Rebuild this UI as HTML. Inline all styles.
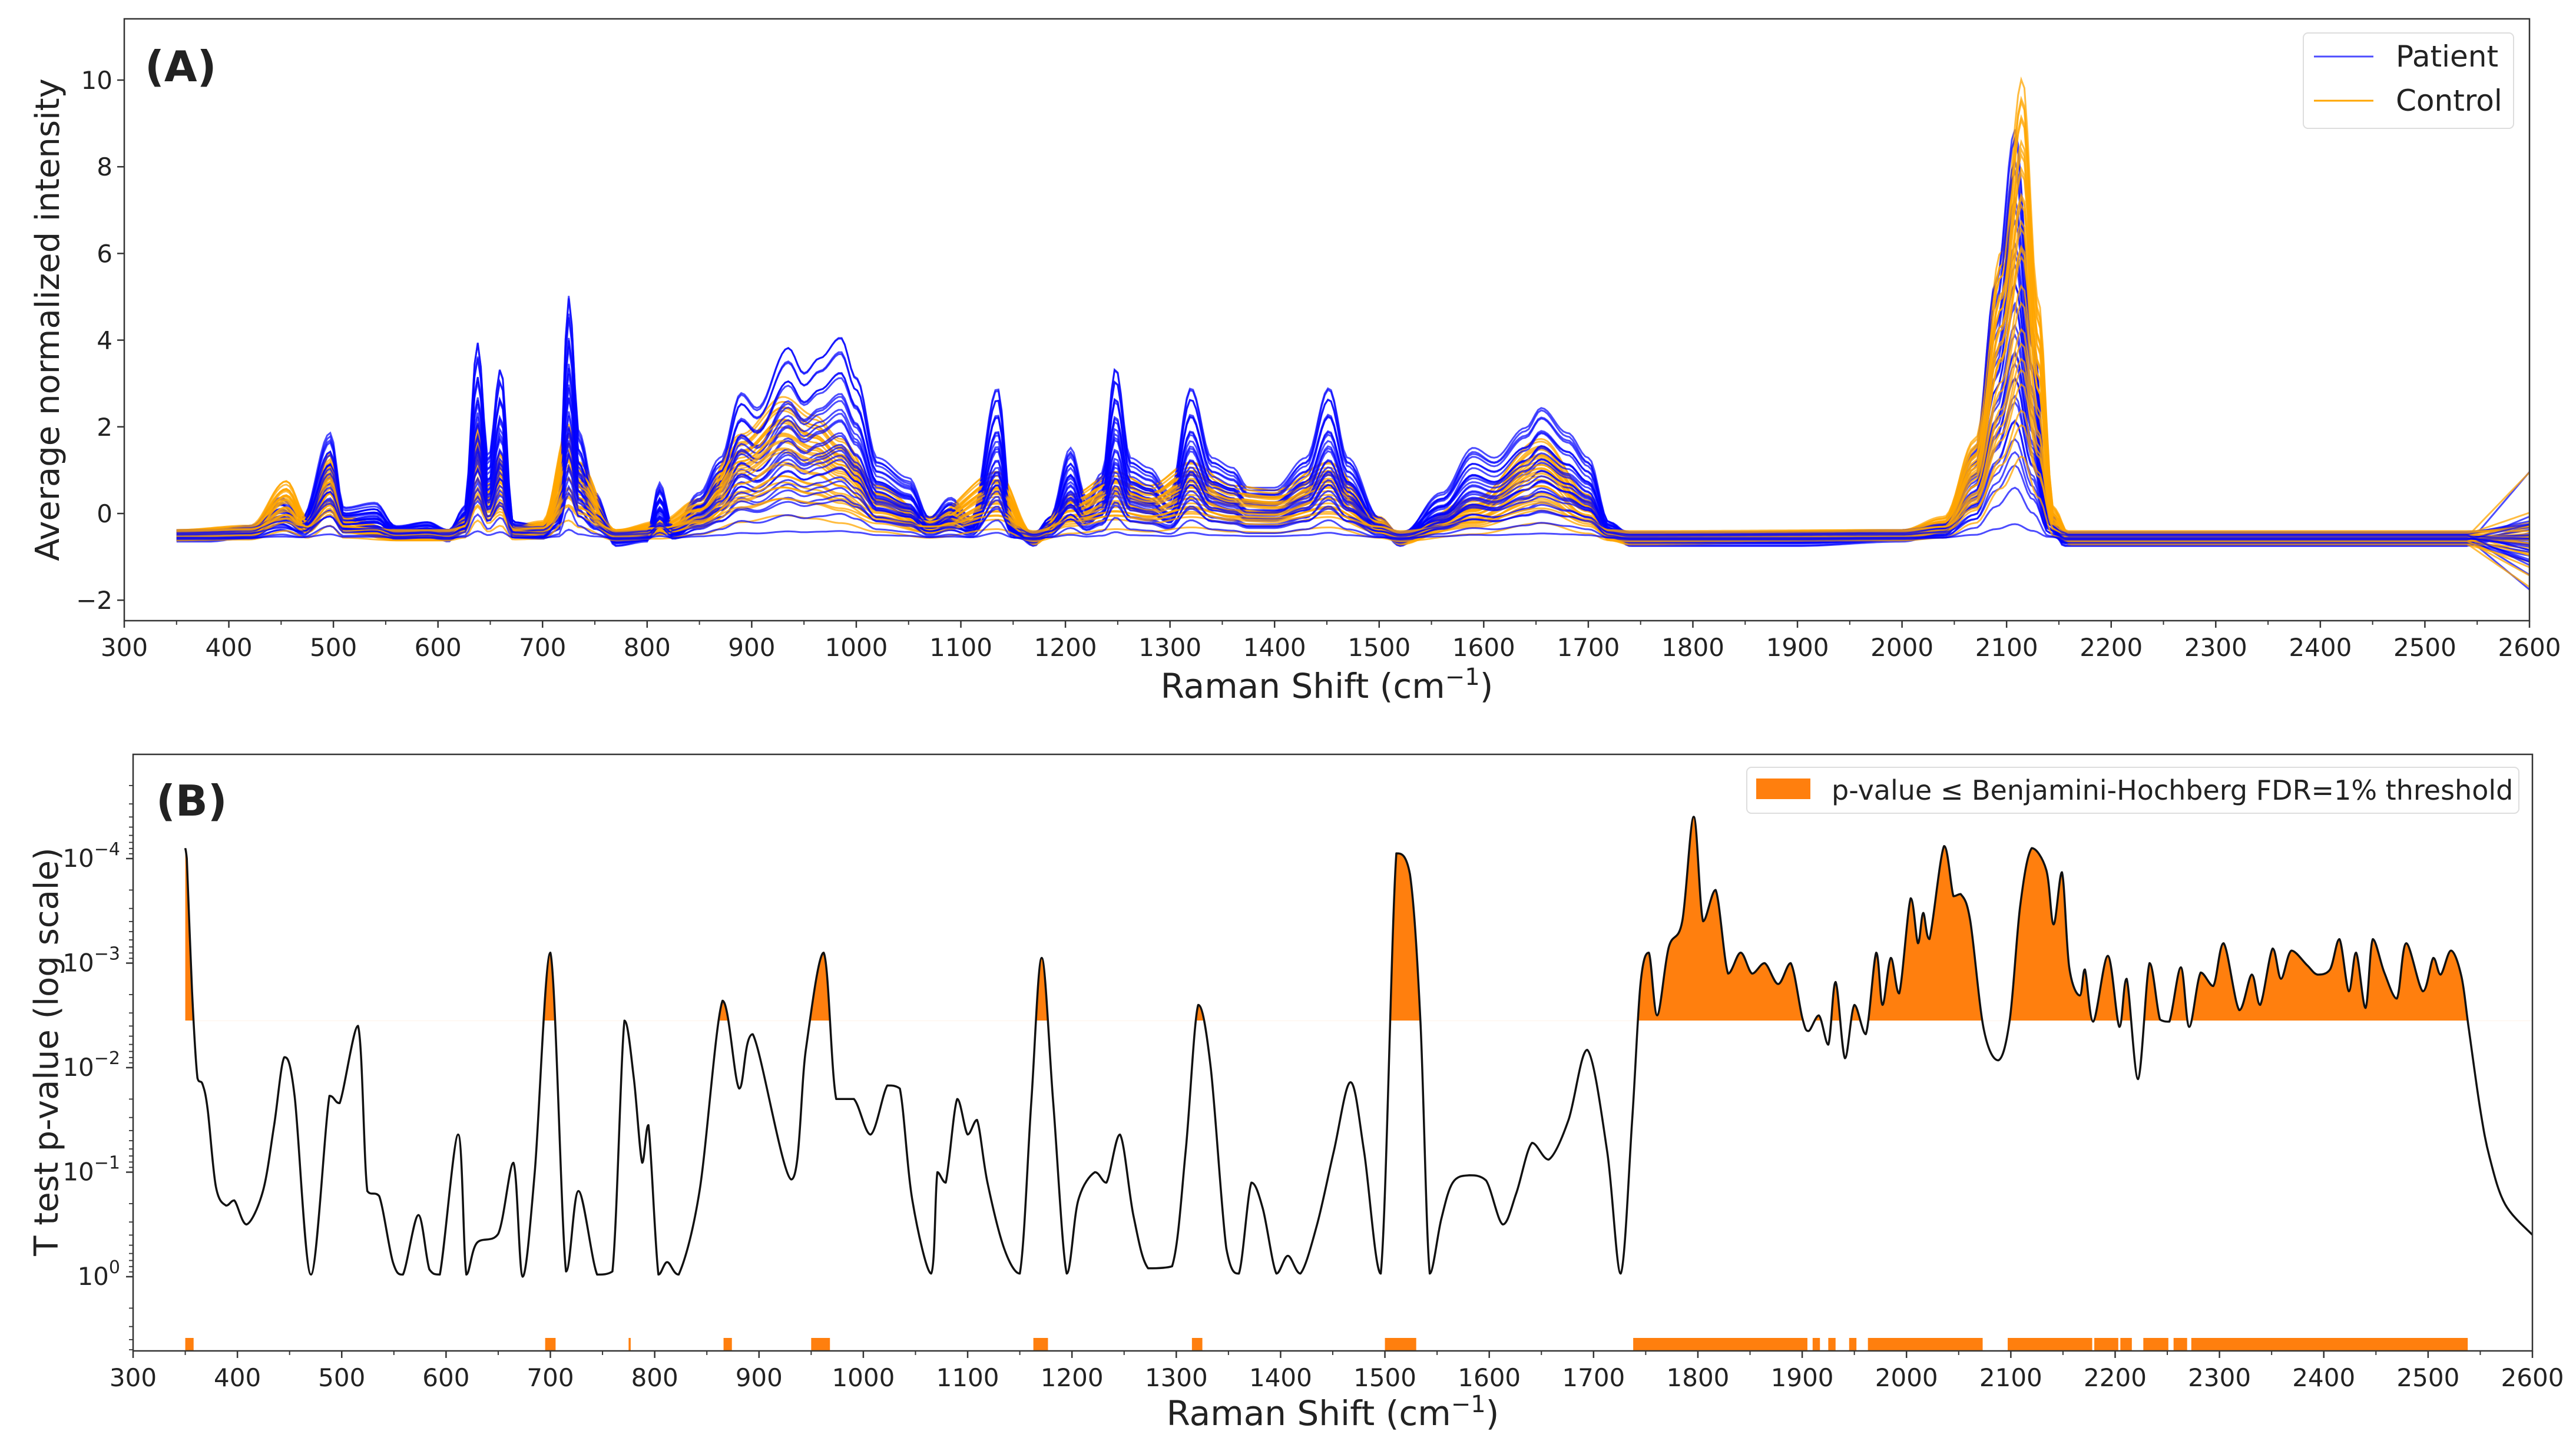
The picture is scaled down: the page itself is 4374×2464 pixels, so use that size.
<!DOCTYPE html>
<html><head><meta charset="utf-8"><style>
html,body{margin:0;padding:0;background:#fff}
svg{display:block}
text{font-family:"DejaVu Sans","Liberation Sans",sans-serif;fill:#222}
</style></head><body>
<svg id="fig" width="4374" height="2464" viewBox="0 0 4374 2464" xmlns="http://www.w3.org/2000/svg">
<rect x="0" y="0" width="4374" height="2464" fill="#fff"/>
<g id="panelA"></g>
<g id="panelB"></g>
</svg>
<script>
// ---------- Panel A data ----------
const patientShift=[350,380,420,450,470,497,510,540,560,590,610,625,638,648,660,672,700,715,725,735,750,770,800,812,825,850,870,890,905,935,950,965,985,1000,1020,1050,1070,1090,1110,1135,1150,1170,1185,1205,1220,1235,1248,1262,1280,1300,1320,1340,1360,1375,1400,1430,1452,1470,1500,1520,1560,1590,1610,1640,1655,1680,1700,1720,1740,1800,1900,2000,2040,2070,2090,2108,2125,2140,2155,2200,2300,2400,2540];
const patientMean=[-0.5,-0.5,-0.4,0.2,-0.2,1.5,0.0,0.1,-0.4,-0.3,-0.5,0.0,3.3,1.0,2.8,-0.3,-0.4,0.2,4.2,1.5,0.3,-0.6,-0.5,0.5,-0.4,0.3,1.0,2.3,2.0,3.2,2.7,3.0,3.4,2.6,1.0,0.6,-0.2,0.2,-0.2,2.4,-0.3,-0.6,-0.2,1.2,0.2,0.7,2.8,1.0,0.8,0.3,2.4,1.0,0.8,0.4,0.4,1.0,2.4,1.0,-0.2,-0.6,0.3,1.2,1.0,1.6,2.0,1.5,1.0,-0.3,-0.6,-0.6,-0.6,-0.5,-0.3,1.2,4.5,7.4,3.5,0.0,-0.6,-0.6,-0.6,-0.6,-0.6];
const controlShift=[350,420,455,475,497,510,560,610,625,638,648,660,672,700,725,735,770,812,850,890,930,960,985,1020,1070,1135,1170,1205,1248,1280,1320,1360,1400,1452,1500,1520,1590,1655,1700,1720,1740,2000,2040,2070,2095,2115,2130,2145,2160,2540];
const controlMean=[-0.5,-0.4,0.6,-0.2,1.2,-0.2,-0.5,-0.5,-0.2,1.8,0.5,1.2,-0.4,-0.3,1.8,1.0,-0.5,-0.3,0.2,1.6,2.4,2.0,1.5,0.5,-0.2,0.8,-0.6,0.3,0.8,0.5,1.0,0.5,0.4,1.0,-0.2,-0.6,0.2,1.5,0.3,-0.5,-0.6,-0.5,-0.2,1.5,5.5,9.2,4.5,0.0,-0.6,-0.6];
const patientScales=[1.2,1.15,1.1,1.05,1.0,0.95,0.9,0.86,0.82,0.78,0.75,0.72,0.68,0.65,0.62,0.58,0.55,0.52,0.5,0.47,0.44,0.41,0.38,0.35,0.32,0.28,0.25,0.2,0.15,0.04];
const patientOffsets=[-0.2,0.1,-0.1,0.15,-0.25,0.05,0.2,-0.15,0.0,0.1,-0.2,0.15,-0.05,0.2,-0.1,0.05,-0.2,0.1,0.0,-0.15,0.2,-0.05,0.1,-0.2,0.15,0.0,-0.1,0.05,-0.15,-0.1];
const patientFan=[1.7,-1.2,0.6,-0.9,0.3,-0.5,0.2,-0.3,0.1,-0.6,0.4,-0.2,0.0,-0.4,0.25,-0.1,0.15,-0.35,0.05,-0.25,0.1,-0.15,0.3,-0.45,0.2,-0.05,0.0,-0.7,0.35,-0.2];
const controlScales=[1.08,1.05,1.02,1.0,0.98,0.95,0.92,0.9,0.88,0.85,0.82,0.8,0.78,0.75,0.72,0.7,0.68,0.65,0.6,0.55,0.5,0.45,0.42,0.4,0.35,0.3,0.25,0.2];
const controlOffsets=[0.1,-0.15,0.2,-0.05,0.15,-0.2,0.0,0.1,-0.1,0.2,-0.15,0.05,0.1,-0.05,0.15,-0.2,0.0,0.2,-0.1,0.05,-0.15,0.1,0.0,-0.1,0.15,-0.05,0.2,-0.2];
const controlFan=[1.5,-1.0,0.5,-0.8,0.3,-0.4,0.2,-0.2,0.1,-0.5,0.35,-0.15,0.0,-0.3,0.2,-0.1,0.1,-0.25,0.05,-0.2,0.1,-0.1,0.25,-0.35,0.15,-0.05,0.0,-0.6];
const xTicksA=[300,400,500,600,700,800,900,1000,1100,1200,1300,1400,1500,1600,1700,1800,1900,2000,2100,2200,2300,2400,2500,2600];
const yTicksA=[-2,0,2,4,6,8,10];

// ---------- Panel B data ----------
const pShift=[350,351.5,356.5,361.7,366.6,371.5,379.4,389.2,397,408.8,424.5,435.2,445,454.8,470.5,488.2,498,515.6,524.5,536,549,558.7,573.4,584,594,611.6,619.5,629.3,650,664.6,673.4,685,700,715,727,744.8,759.5,771,780,788,794,803.6,812,823,843,865,881,894,931,945,962,974,991,1007,1023,1035,1047,1065,1071,1079,1090,1100,1109,1119,1135,1150,1161,1171,1182,1195,1206,1222,1233,1246,1259,1273,1296,1309,1321,1333,1348,1360,1372,1383,1396,1407,1419,1435,1451,1467,1480,1496,1511,1524,1534,1543,1554,1565,1581,1597,1613,1626,1641,1657,1676,1694,1713,1726,1737,1745,1753,1761,1772,1785,1796,1805,1817,1829,1841,1852,1864,1877,1889,1900,1906,1916,1925,1932,1941,1950,1961,1971,1977,1985,1993,2004,2011,2016,2022,2036,2045,2052,2061,2074,2088,2099,2109,2120,2134,2141,2149,2156,2166,2171,2179,2193,2204,2211,2222,2233,2243,2252,2263,2271,2282,2294,2304,2319,2331,2339,2351,2359,2369,2384,2394,2406,2415,2424,2431,2440,2447,2458,2470,2479,2495,2505,2512,2522,2532,2539,2550,2559,2574,2601];
const negLogP=[4.1,4.0,2.73,1.9,1.84,1.6,0.86,0.68,0.73,0.5,0.82,1.45,2.1,1.73,0.02,1.73,1.66,2.4,0.82,0.77,0.14,0.02,0.59,0.07,0.02,1.36,0.02,0.32,0.41,1.09,0.0,1.0,3.1,0.05,0.82,0.02,0.05,2.45,1.9,1.09,1.45,0.02,0.14,0.02,0.82,2.64,1.8,2.32,0.93,2.18,3.1,1.7,1.7,1.36,1.83,1.8,0.73,0.03,1.0,0.9,1.7,1.36,1.5,0.9,0.27,0.03,1.67,3.05,1.67,0.03,0.73,1.0,0.9,1.36,0.58,0.08,0.1,1.2,2.6,2.0,0.27,0.03,0.9,0.65,0.03,0.2,0.03,0.5,1.2,1.86,1.2,0.03,4.05,3.85,2.45,0.03,0.55,0.9,0.97,0.92,0.5,0.8,1.28,1.12,1.5,2.17,1.2,0.03,1.5,2.8,3.1,2.5,3.15,3.4,4.4,3.4,3.7,2.9,3.1,2.9,3.0,2.8,3.0,2.48,2.35,2.5,2.22,2.82,2.09,2.6,2.32,3.1,2.6,3.05,2.71,3.62,3.19,3.48,3.23,4.12,3.64,3.66,3.41,2.37,2.07,2.46,3.55,4.1,3.89,3.37,3.87,2.96,2.69,2.94,2.44,3.07,2.39,2.85,1.89,3.0,2.46,2.44,2.96,2.39,2.91,2.78,3.19,2.55,2.89,2.6,3.14,2.85,3.12,2.98,2.89,2.94,3.23,2.73,3.1,2.57,3.23,2.91,2.66,3.19,2.73,3.05,2.89,3.12,2.87,2.37,1.6,1.14,0.69,0.39];
const thresholdNegLogP=[2.45];
const sigStart=[350,695,775,866,950,1163,1315,1500,1738,1910,1925,1945,1963,2097,2180,2205,2227,2256,2273];
const sigEnd=[358,705,777,874,968,1177,1325,1530,1905,1917,1932,1952,2073,2178,2203,2216,2251,2269,2538];
const xTicksB=[300,400,500,600,700,800,900,1000,1100,1200,1300,1400,1500,1600,1700,1800,1900,2000,2100,2200,2300,2400,2500,2600];
const yDecadesB=[-4,-3,-2,-1,0];

const NS="http://www.w3.org/2000/svg";
function mk(tag,attrs,parent,txt){const e=document.createElementNS(NS,tag);for(const k in attrs)e.setAttribute(k,attrs[k]);if(txt!==undefined)e.textContent=txt;parent.appendChild(e);return e;}

// ===== Panel A =====
const A=document.getElementById('panelA');
const aL=211,aR=4295,aT=32,aB=1054;
const xA=v=>aL+(v-300)*(aR-aL)/2300;
const yA=v=>872-v*73.6;
function interp(xs,ys,x){if(x<=xs[0])return ys[0];for(let i=1;i<xs.length;i++){if(x<=xs[i]){const t=(x-xs[i-1])/(xs[i]-xs[i-1]);const s=(1-Math.cos(Math.PI*t))/2;return ys[i-1]+(ys[i]-ys[i-1])*s;}}return ys[ys.length-1];}
const clipA=mk('clipPath',{id:'clipA'},A);mk('rect',{x:aL,y:aT,width:aR-aL,height:aB-aT},clipA);
const linesA=mk('g',{'clip-path':'url(#clipA)'},A);


function specPath(xs,ys,scale,off,fan){let d='';for(let x=350;x<=2600;x+=3){let v;if(x<=2540){const m=interp(xs,ys,x);v=-0.5+off*0.6+scale*(m+0.5);}else{const base=-0.5+off*0.6+scale*(ys[ys.length-1]+0.5);v=base+fan*(x-2540)/60;}d+=(d?'L':'M')+xA(x).toFixed(1)+','+yA(v).toFixed(1);}return d;}
const nMax=Math.max(patientScales.length,controlScales.length);
for(let i=0;i<nMax;i++){
 if(i<patientScales.length){const p=mk('path',{d:specPath(patientShift,patientMean,patientScales[i],patientOffsets[i],patientFan[i]),fill:'none',stroke:'#0000ff','stroke-opacity':0.7,'stroke-width':3},linesA);
  
  }
 if(i<controlScales.length){const c=mk('path',{d:specPath(controlShift,controlMean,controlScales[i],controlOffsets[i],controlFan[i]),fill:'none',stroke:'#ffa500','stroke-opacity':0.75,'stroke-width':3},linesA);
  
  }
}
mk('rect',{x:aL,y:aT,width:aR-aL,height:aB-aT,fill:'none',stroke:'#333','stroke-width':2.5},A);
const axA=mk('g',{},A);


xTicksA.forEach(v=>{mk('line',{x1:xA(v),x2:xA(v),y1:aB,y2:aB+12,stroke:'#333','stroke-width':2.5},axA);
 const t=mk('text',{x:xA(v),y:aB+60,'font-size':42,'text-anchor':'middle'},axA,String(v));
 
 
 if(v<2600)mk('line',{x1:xA(v+50),x2:xA(v+50),y1:aB,y2:aB+7,stroke:'#333','stroke-width':2},axA);});
const ayA=mk('g',{},A);


yTicksA.forEach(v=>{mk('line',{x1:aL-12,x2:aL,y1:yA(v),y2:yA(v),stroke:'#333','stroke-width':2.5},ayA);
 const t=mk('text',{x:aL-20,y:yA(v)+15,'font-size':42,'text-anchor':'end'},ayA,v<0?'\u2212'+Math.abs(v):String(v));
 
 });
let t;
t=mk('text',{x:(aL+aR)/2,y:1185,'font-size':58,'text-anchor':'middle'},A,'Raman Shift (cm');
mk('tspan',{dy:-22,'font-size':40},t,'\u22121');mk('tspan',{dy:22},t,')');


t=mk('text',{x:0,y:0,'font-size':56,'text-anchor':'middle',transform:'translate(100,543) rotate(-90)'},A,'Average normalized intensity');


t=mk('text',{x:246,y:138,'font-size':72,'font-weight':'bold'},A,'(A)');


const legA=mk('g',{},A);


mk('rect',{x:3911,y:56,width:357,height:162,rx:8,fill:'#fff','fill-opacity':0.85,stroke:'#ddd','stroke-width':2},legA);
mk('line',{x1:3929,x2:4030,y1:96,y2:96,stroke:'#0000ff','stroke-opacity':0.7,'stroke-width':3},legA);
mk('line',{x1:3929,x2:4030,y1:171,y2:171,stroke:'#ffa500','stroke-width':3},legA);
t=mk('text',{x:4068,y:113,'font-size':50},legA,'Patient');


t=mk('text',{x:4068,y:188,'font-size':50},legA,'Control');



// ===== Panel B =====
const B=document.getElementById('panelB');
const bL=226,bR=4300,bT=1281,bB=2294;
const xB=v=>bL+(v-300)*(bR-bL)/2300;
const yB=e=>2168-e*177.5;
const clipB=mk('clipPath',{id:'clipB'},B);mk('rect',{x:bL,y:bT,width:bR-bL,height:bB-bT},clipB);
const yTh=yB(thresholdNegLogP[0]);
const clipF=mk('clipPath',{id:'clipFill'},B);mk('rect',{x:bL,y:bT,width:bR-bL,height:yTh-bT},clipF);
const pts=pShift.map((x,i)=>[xB(x),yB(negLogP[i])]);
const clampY=(v,a,b)=>Math.min(Math.max(v,Math.min(a,b)),Math.max(a,b));
let dc='M'+pts[0][0].toFixed(1)+','+pts[0][1].toFixed(1);
for(let i=0;i<pts.length-1;i++){const p0=pts[Math.max(0,i-1)],p1=pts[i],p2=pts[i+1],p3=pts[Math.min(pts.length-1,i+2)];
 const c1x=p1[0]+(p2[0]-p0[0])/6,c2x=p2[0]-(p3[0]-p1[0])/6;
 const c1y=clampY(p1[1]+(p2[1]-p0[1])/6,p1[1],p2[1]),c2y=clampY(p2[1]-(p3[1]-p1[1])/6,p1[1],p2[1]);
 dc+='C'+c1x.toFixed(1)+','+c1y.toFixed(1)+' '+c2x.toFixed(1)+','+c2y.toFixed(1)+' '+p2[0].toFixed(1)+','+p2[1].toFixed(1);}
const fill=mk('path',{d:'M'+pts[0][0]+','+yTh+'L'+dc.slice(1)+'L'+pts[pts.length-1][0]+','+yTh+'Z',fill:'#ff7f0e','clip-path':'url(#clipFill)'},B);


const curve=mk('path',{d:dc,fill:'none',stroke:'#111','stroke-width':3.5,'stroke-linejoin':'round','clip-path':'url(#clipB)'},B);


sigStart.forEach((s,i)=>{const r=mk('rect',{x:xB(s),y:2272,width:Math.max(3,xB(sigEnd[i])-xB(s)),height:22,fill:'#ff7f0e'},B);
 
 });
mk('rect',{x:bL,y:bT,width:bR-bL,height:bB-bT,fill:'none',stroke:'#333','stroke-width':2.5},B);
const axB=mk('g',{},B);


xTicksB.forEach(v=>{mk('line',{x1:xB(v),x2:xB(v),y1:bB,y2:bB+12,stroke:'#333','stroke-width':2.5},axB);
 const tt=mk('text',{x:xB(v),y:bB+60,'font-size':42,'text-anchor':'middle'},axB,String(v));
 
 
 if(v<2600)mk('line',{x1:xB(v+50),x2:xB(v+50),y1:bB,y2:bB+7,stroke:'#333','stroke-width':2},axB);});
const ayB=mk('g',{},B);


yDecadesB.forEach(d=>{const y=yB(-d);mk('line',{x1:bL-12,x2:bL,y1:y,y2:y,stroke:'#333','stroke-width':2.5},ayB);
 const tt=mk('text',{x:bL-22,y:y+14,'font-size':42,'text-anchor':'end'},ayB,'10');
 mk('tspan',{dy:-20,'font-size':30},tt,d<0?'\u2212'+Math.abs(d):String(d));
 
 });
for(let d=-5;d<=0;d++){for(let m=2;m<=9;m++){const e=-(d+Math.log10(m));const y=yB(e);if(y>bT&&y<bB)mk('line',{x1:bL-7,x2:bL,y1:y,y2:y,stroke:'#333','stroke-width':1.8},ayB);}}
t=mk('text',{x:(bL+bR)/2,y:2420,'font-size':58,'text-anchor':'middle'},B,'Raman Shift (cm');
mk('tspan',{dy:-22,'font-size':40},t,'\u22121');mk('tspan',{dy:22},t,')');


t=mk('text',{x:0,y:0,'font-size':56,'text-anchor':'middle',transform:'translate(98,1786) rotate(-90)'},B,'T test p-value (log scale)');


t=mk('text',{x:265,y:1385,'font-size':72,'font-weight':'bold'},B,'(B)');


const legB=mk('g',{},B);


mk('rect',{x:2966,y:1303,width:1311,height:78,rx:8,fill:'#fff','fill-opacity':0.85,stroke:'#ddd','stroke-width':2},legB);
mk('rect',{x:2982,y:1322,width:92,height:35,fill:'#ff7f0e'},legB);
t=mk('text',{x:3110,y:1358,'font-size':46},legB,'p-value \u2264 Benjamini-Hochberg FDR=1% threshold');


</script>
</body></html>
